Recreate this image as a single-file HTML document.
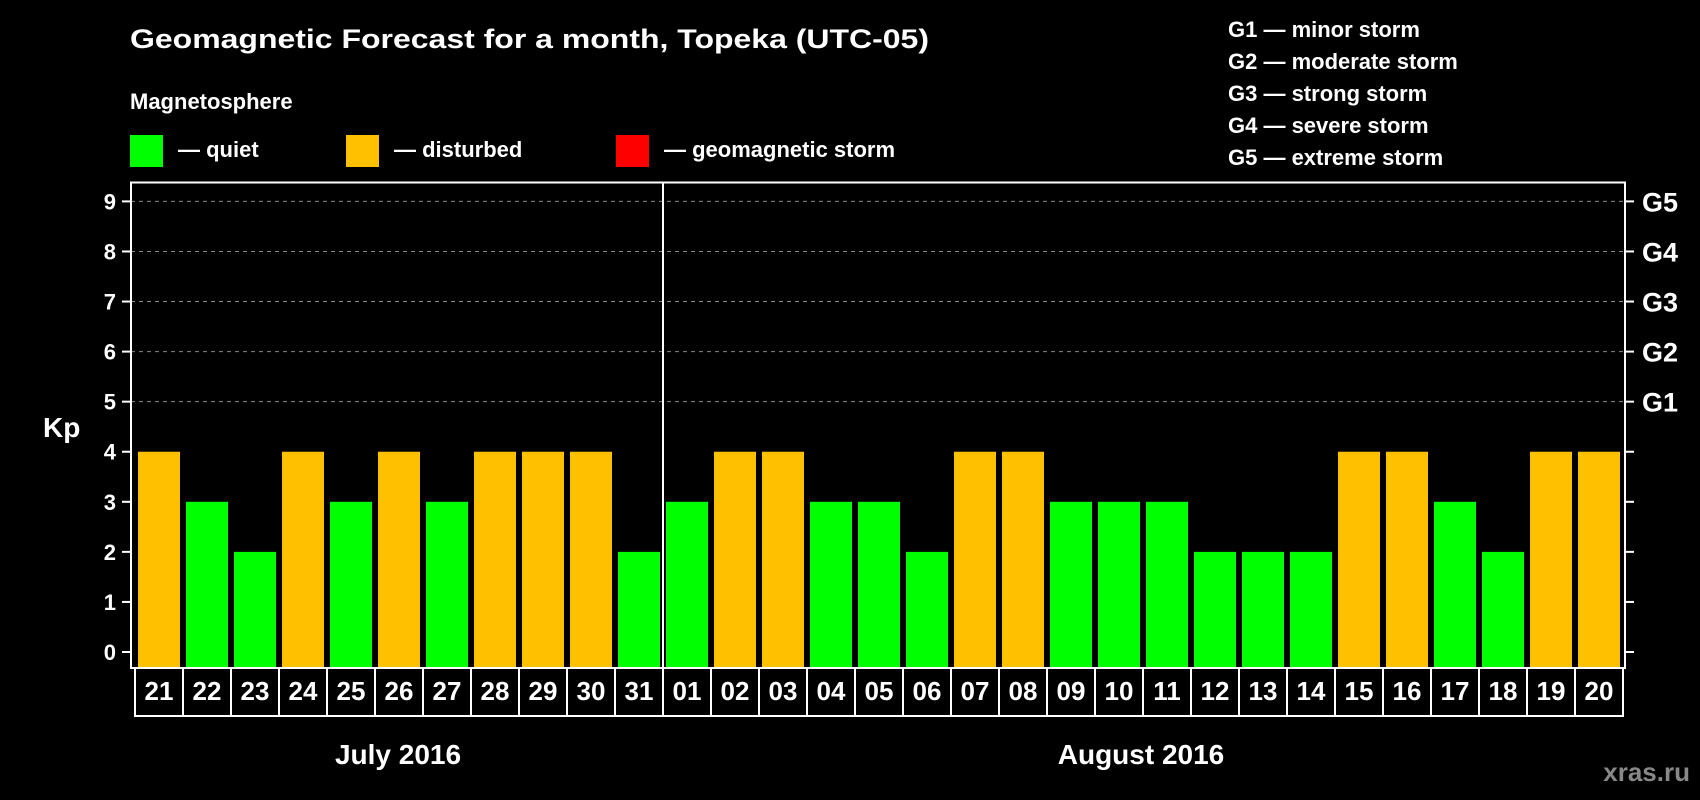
<!DOCTYPE html>
<html><head><meta charset="utf-8"><style>
html,body{margin:0;padding:0;background:#000;width:1700px;height:800px;overflow:hidden}
svg{display:block;font-family:"Liberation Sans",Arial,sans-serif;font-weight:bold}
</style></head><body>
<svg id="chart" width="1700" height="800" viewBox="0 0 1700 800">
<rect x="0" y="0" width="1700" height="800" fill="#000"/>
<text x="130" y="48" font-size="27" fill="#fff" textLength="799" lengthAdjust="spacingAndGlyphs">Geomagnetic Forecast for a month, Topeka (UTC-05)</text>
<text x="130" y="109" font-size="22" fill="#fff">Magnetosphere</text>
<g><rect x="130" y="135" width="33" height="32" fill="#00ff00"/><text x="178" y="157" font-size="22" fill="#fff">— quiet</text></g>
<g><rect x="346" y="135" width="33" height="32" fill="#ffc000"/><text x="394" y="157" font-size="22" fill="#fff">— disturbed</text></g>
<g><rect x="616" y="135" width="33" height="32" fill="#ff0000"/><text x="664" y="157" font-size="22" fill="#fff">— geomagnetic storm</text></g>
<g font-size="22" fill="#fff">
<text x="1228" y="37">G1 — minor storm</text>
<text x="1228" y="69">G2 — moderate storm</text>
<text x="1228" y="101">G3 — strong storm</text>
<text x="1228" y="133">G4 — severe storm</text>
<text x="1228" y="165">G5 — extreme storm</text>
</g>
<text x="43" y="437" font-size="28" fill="#fff">Kp</text>
<g id="grid"></g>
<g id="bars"></g>
<g id="dates"></g>
<rect x="131" y="182.5" width="1494" height="485.5" fill="none" stroke="#fff" stroke-width="2"/>
<line x1="663" y1="182.5" x2="663" y2="668" stroke="#fff" stroke-width="2"/>
<text x="398" y="764" font-size="28" fill="#fff" text-anchor="middle">July 2016</text>
<text x="1141" y="764" font-size="28" fill="#fff" text-anchor="middle">August 2016</text>
<text x="1690" y="781" font-size="26" fill="#888" text-anchor="end">xras.ru</text>
</svg>
<script>
const days=["21","22","23","24","25","26","27","28","29","30","31","01","02","03","04","05","06","07","08","09","10","11","12","13","14","15","16","17","18","19","20"];
const kp=[4,3,2,4,3,4,3,4,4,4,2,3,4,4,3,3,2,4,4,3,3,3,2,2,2,4,4,3,2,4,4];
const yTicks=[0,1,2,3,4,5,6,7,8,9];
const gLabels=["G1","G2","G3","G4","G5"];
const NS="http://www.w3.org/2000/svg";
const y0=652, yUnit=(652-201.4)/9, plotBottom=668;
function y(v){return y0-v*yUnit;}
function x(i){return 138+i*48;}
function mk(t,a,p){const e=document.createElementNS(NS,t);for(const k in a)e.setAttribute(k,a[k]);p.appendChild(e);return e;}
const grid=document.getElementById('grid');
yTicks.forEach(v=>{
  const yy=y(v);
  if(v>=5){
    const gl=mk('line',{x1:131,x2:1625,y1:yy,y2:yy,stroke:'#888','stroke-width':1,'stroke-dasharray':'4,4'},grid);
    
    
  }
  mk('line',{x1:122,x2:131,y1:yy,y2:yy,stroke:'#fff','stroke-width':2},grid);
  mk('line',{x1:1625,x2:1634,y1:yy,y2:yy,stroke:'#fff','stroke-width':2},grid);
  const t=mk('text',{x:116,y:yy+8,'font-size':22,fill:'#fff','text-anchor':'end'},grid);
  t.textContent=v;
  
  
});
gLabels.forEach((g,i)=>{
  const t=mk('text',{x:1642,y:y(5+i)+10,'font-size':27,fill:'#fff'},grid);
  t.textContent=g;
  
  
});
const bars=document.getElementById('bars');
kp.forEach((v,i)=>{
  const col=v>=5?'#ff0000':(v>=4?'#ffc000':'#00ff00');
  const r=mk('rect',{x:x(i),y:y(v),width:42,height:plotBottom-y(v),fill:col},bars);
  
  
});
const dates=document.getElementById('dates');
days.forEach((d,i)=>{
  const cx=135+i*48;
  const c=mk('rect',{x:cx,y:668,width:48,height:48,fill:'#000',stroke:'#fff','stroke-width':2},dates);
  
  
  const t=mk('text',{x:cx+24,y:700,'font-size':26,fill:'#fff','text-anchor':'middle'},dates);
  t.textContent=d;
  
  
});
</script>
</body></html>
